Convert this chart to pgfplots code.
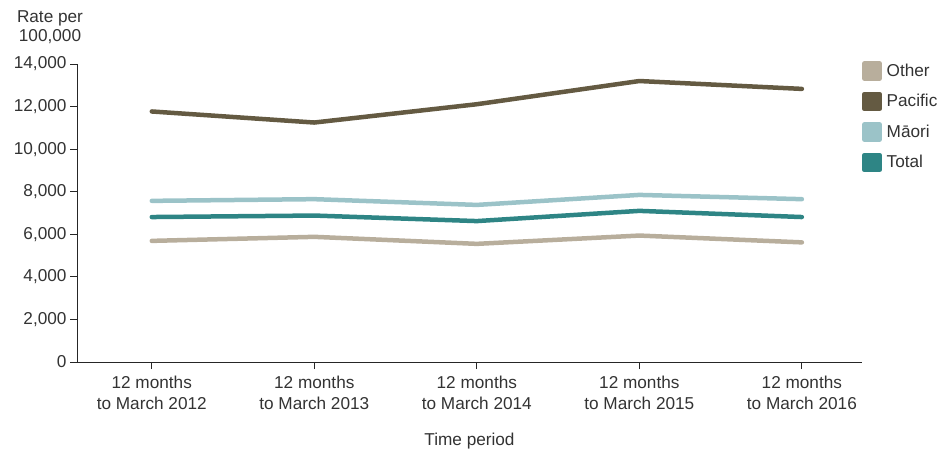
\documentclass[border=0pt]{standalone}
\usepackage{pgfplots}
\pgfplotsset{compat=1.18}
\usepackage{fontspec}
\setmainfont{Liberation Sans}
\definecolor{other}{HTML}{B8AE9C}
\definecolor{pacific}{HTML}{645A42}
\definecolor{maori}{HTML}{9BC3C8}
\definecolor{total}{HTML}{2E8585}
\definecolor{txt}{HTML}{333333}
\begin{document}
\begin{tikzpicture}[font=\fontsize{17.2bp}{21bp}\selectfont]
\useasboundingbox (0,0) rectangle (939bp,450bp);
\begin{axis}[
  at={(77bp,88bp)}, anchor=south west,
  scale only axis, width=785bp, height=298bp,
  xmin=-0.46, xmax=4.37, ymin=0, ymax=14000,
  axis x line*=bottom, axis y line*=left,
  axis line style={line width=0.9bp, color=black!85},
  ytick={0,2000,...,14000},
  scaled y ticks=false,
  yticklabel style={/pgf/number format/1000 sep={,}, /pgf/number format/assume math mode=true, text=txt},
  xtick={0,1,2,3,4},
  xticklabels={{12 months\\to March 2012},{12 months\\to March 2013},{12 months\\to March 2014},{12 months\\to March 2015},{12 months\\to March 2016}},
  xticklabel style={align=center, text=txt, yshift=-4bp},
  tick align=outside, major tick length=7bp,
  tick style={line width=0.9bp, color=black!85},
  xlabel={Time period}, xlabel style={text=txt, yshift=-16bp},
  legend style={at={(1,1)}, anchor=north west, draw=none, fill=none, row sep=11bp, column sep=3bp, text=txt, inner sep=0pt, yshift=3bp,
    cells={anchor=west}},
  legend image code/.code={\fill[#1] (0bp,-7.5bp) rectangle (15bp,7.5bp);},
  every axis plot/.append style={line width=4.5bp, line cap=round, line join=round, mark=none},
]
\addplot[color=other] coordinates {(0,5690) (1,5880) (2,5550) (3,5940) (4,5620)};
\addlegendentry{Other}
\addplot[color=pacific] coordinates {(0,11770) (1,11250) (2,12110) (3,13200) (4,12830)};
\addlegendentry{Pacific}
\addplot[color=maori] coordinates {(0,7570) (1,7650) (2,7380) (3,7850) (4,7650)};
\addlegendentry{Māori}
\addplot[color=total] coordinates {(0,6810) (1,6880) (2,6620) (3,7100) (4,6810)};
\addlegendentry{Total}
\end{axis}
\node[align=center, text=txt, font=\fontsize{17.2bp}{19bp}\selectfont] at (50bp,423bp) {Rate per\\100,000};
\end{tikzpicture}
\end{document}
